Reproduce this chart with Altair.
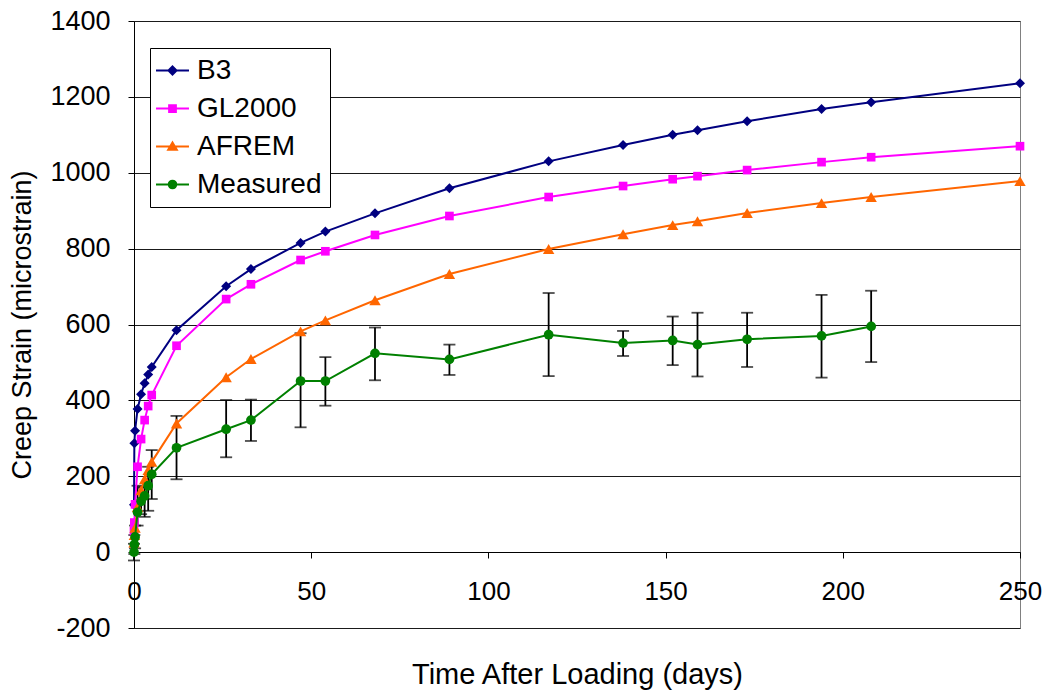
import altair as alt
import pandas as pd

series_names = ["B3", "GL2000", "AFREM", "Measured"]
series_colors = ["#000080", "#FF00FF", "#FF6600", "#008000"]
marker_shapes = ["diamond", "square", "triangle-up", "circle"]
marker_sizes = [100, 75, 130, 95]

t_model = [0, 0.1, 0.3, 1, 2, 3, 4, 5, 12, 26, 33, 47, 54, 68, 89, 117, 138, 152, 159, 173, 194, 208, 250]
b3 = [125, 287, 320, 377, 416, 445, 468, 488, 585, 701, 746, 815, 845, 893, 959, 1030, 1073, 1100, 1112, 1136, 1168, 1186, 1236]
gl2000 = [55, 78, 126, 225, 298, 348, 385, 414, 544, 667, 706, 770, 793, 836, 886, 936, 965, 983, 991, 1007, 1028, 1041, 1070]
afrem = [25, 45, 64, 119, 163, 192, 216, 238, 339, 461, 509, 582, 611, 664, 733, 799, 838, 862, 872, 894, 920, 936, 978]

t_meas = [0, 0.1, 0.3, 1, 2, 3, 4, 5, 12, 26, 33, 47, 54, 68, 89, 117, 138, 152, 159, 173, 194, 208]
measured = [0, 20, 40, 105, 134, 148, 175, 205, 275, 324, 348, 451, 451, 524, 508, 573, 551, 558, 547, 561, 570, 595]
meas_low = [-22, -5, 10, 70, 100, 93, 109, 140, 192, 250, 293, 329, 386, 453, 467, 464, 517, 493, 463, 488, 460, 501]
meas_high = [22, 45, 70, 175, 170, 172, 225, 269, 359, 401, 402, 577, 514, 592, 547, 683, 583, 621, 631, 631, 678, 689]

x_ticks = [0, 50, 100, 150, 200, 250]
y_ticks = [-200, 0, 200, 400, 600, 800, 1000, 1200, 1400]

# legend symbols: short line with the series marker on it
legend_paths = [
    "M-1.22,0H1.22M0,-0.3L0.3,0L0,0.3L-0.3,0Z",
    "M-1.22,0H1.22M-0.25,-0.25H0.25V0.25H-0.25Z",
    "M-1.22,0H1.22M0,-0.3L0.32,0.24H-0.32Z",
    "M-1.22,0H1.22M-0.28,0A0.28,0.28 0 1,0 0.28,0A0.28,0.28 0 1,0 -0.28,0Z",
]

rows = []
for name, vals in zip(series_names[:3], [b3, gl2000, afrem]):
    for t, v in zip(t_model, vals):
        rows.append({"Series": name, "t": t, "v": v})
for t, v in zip(t_meas, measured):
    rows.append({"Series": "Measured", "t": t, "v": v})
df = pd.DataFrame(rows)

err_df = pd.DataFrame({"t": t_meas, "lo": meas_low, "hi": meas_high})

x_scale = alt.Scale(domain=[0, 250], nice=False, zero=False)
y_scale = alt.Scale(domain=[-200, 1400], nice=False)

x_axis = alt.Axis(
    values=x_ticks, title="Time After Loading (days)", offset=-76,
    grid=False, tickSize=6, labelPadding=20, labelFontSize=26,
    titleFontSize=29, titleFontWeight="normal", titleY=131,
    titleBaseline="alphabetic", domainColor="black", tickColor="black",
    labelColor="black", titleColor="black", labelFlush=False,
    labelExpr="'' + datum.value",
)
y_axis = alt.Axis(
    values=y_ticks, title="Creep Strain (microstrain)", grid=True,
    gridColor="#1a1a1a", gridWidth=1, tickSize=6, labelPadding=18,
    labelFontSize=27, titleFontSize=27, titleFontWeight="normal",
    titleX=-112, titleBaseline="middle", domainColor="black",
    tickColor="black", labelColor="black", titleColor="black",
    labelExpr="'' + datum.value",
)

base = alt.Chart(df)

err = alt.Chart(err_df).mark_errorbar(
    ticks=True, color="black", thickness=1.8, size=12
).encode(
    x=alt.X("t:Q", scale=x_scale, axis=x_axis),
    y=alt.Y("lo:Q", scale=y_scale, axis=y_axis),
    y2="hi:Q",
)

layers = [err]
for name, col, shp, sz in zip(series_names, series_colors, marker_shapes, marker_sizes):
    sub = base.transform_filter(alt.datum.Series == name)
    line = sub.mark_line(color=col, strokeWidth=2).encode(
        x=alt.X("t:Q", scale=x_scale, axis=x_axis),
        y=alt.Y("v:Q", scale=y_scale, axis=y_axis),
        order="t:Q",
    )
    pts = sub.mark_point(shape=shp, filled=True, size=sz, color=col, opacity=1).encode(
        x=alt.X("t:Q", scale=x_scale, axis=x_axis),
        y=alt.Y("v:Q", scale=y_scale, axis=y_axis),
    )
    layers += [line, pts]

legend_def = alt.Legend(
    title=None, orient="none", legendX=16, legendY=27,
    labelFontSize=28, labelColor="black", labelFont="Liberation Sans",
    symbolSize=729, symbolStrokeWidth=2, symbolOpacity=1,
    strokeColor="black", fillColor="white", padding=8, rowPadding=9,
    labelOffset=10, cornerRadius=0,
)
legend_layer = base.transform_filter("datum.Series == 'none'").mark_point(
    filled=True, opacity=1, strokeWidth=2
).encode(
    x=alt.X("t:Q", scale=x_scale, axis=x_axis),
    y=alt.Y("v:Q", scale=y_scale, axis=y_axis),
    fill=alt.Fill("Series:N", scale=alt.Scale(domain=series_names, range=series_colors), legend=legend_def),
    stroke=alt.Stroke("Series:N", scale=alt.Scale(domain=series_names, range=series_colors), legend=legend_def),
    shape=alt.Shape("Series:N", scale=alt.Scale(domain=series_names, range=legend_paths), legend=legend_def),
)
layers.append(legend_layer)

chart = alt.layer(*layers).properties(
    width=886, height=607,
    autosize=alt.AutoSizeParams(type="none"),
    padding={"left": 134, "top": 21, "right": 27, "bottom": 66},
    background="white",
).configure(
    font="Liberation Sans",
).configure_view(
    stroke="#808080", strokeWidth=1,
).configure_axis(
    labelFont="Liberation Sans", titleFont="Liberation Sans",
)

chart.save("out.html", embed_options={"renderer": "svg", "actions": False})
